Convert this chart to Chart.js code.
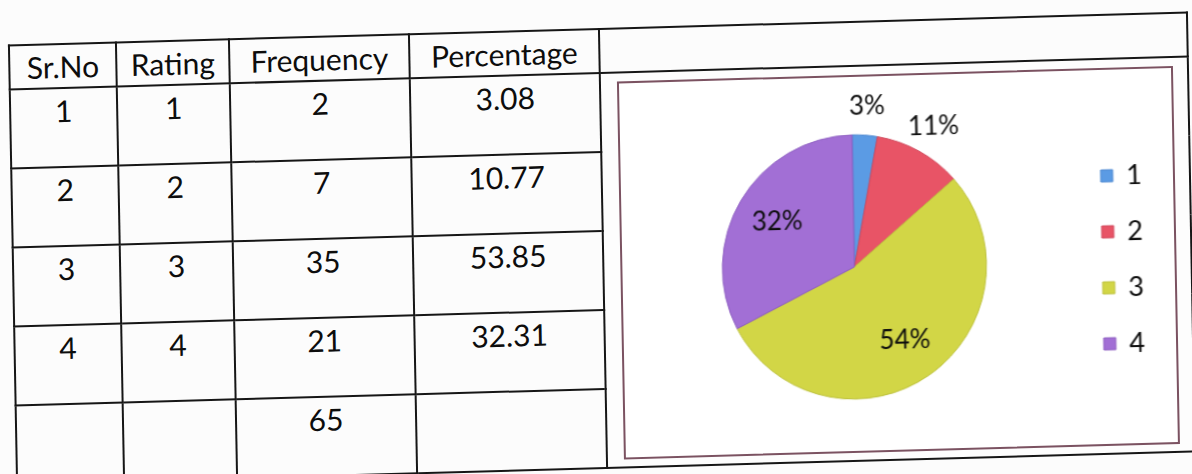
<!DOCTYPE html>
<html>
<head>
<meta charset="utf-8">
<script src="https://cdn.jsdelivr.net/npm/chart.js@4.4.1/dist/chart.umd.min.js"></script>
<style>
  html, body { margin: 0; padding: 0; background: #fcfcfc; }
  body { width: 1192px; height: 474px; overflow: hidden; position: relative; }
  #sheet {
    position: absolute; left: 12px; top: 28px; width: 1178px; height: 439px;
    transform-origin: center center;
    transform: matrix(1, -0.028, 0.0186, 1, 0, 0);
  }
  table {
    border-collapse: collapse; table-layout: fixed; width: 1178px;
    font-family: Lato, sans-serif; font-size: 30px; color: #0d0d0d;
  }
  th, td { border: 2px solid #161616; text-align: center; padding: 0; }
  th { font-weight: normal; height: 42px; vertical-align: middle; }
  td { height: 73px; vertical-align: top; padding-top: 4px; line-height: 34px; }
  td.chartCell { padding: 0; background: #fdfdfd; }
  .box {
    box-sizing: border-box; width: 556px; height: 378px; margin: 8px 0 0 16px;
    border: 2px solid #7b5261; background: #fff;
  }
  .box canvas { display: block; }
</style>
</head>
<body>
<div id="sheet">
  <table id="tbl">
    <colgroup>
      <col style="width:107px"><col style="width:113px"><col style="width:180px">
      <col style="width:190px"><col style="width:588px">
    </colgroup>
    <thead>
      <tr><th>Sr.No</th><th>Rating</th><th>Frequency</th><th>Percentage</th><th></th></tr>
    </thead>
    <tbody id="rows"></tbody>
  </table>
</div>

<script>
// table and pie values
var serials = [1, 2, 3, 4];
var ratings = ['1', '2', '3', '4'];
var frequencies = [2, 7, 35, 21];
var percentages = [3.08, 10.77, 53.85, 32.31];
var totalFrequency = 65;

var sliceColours = ['#5b9be4', '#e85466', '#d2d646', '#a26fd5'];
var sliceBorders = ['#4a86d0', '#d04458', '#bcc03a', '#8c5cc0'];

// build the rows, chart cell spans all body rows
var body = document.getElementById('rows');
for (var i = 0; i < serials.length; i++) {
    var tr = document.createElement('tr');
    tr.innerHTML = '<td>' + serials[i] + '</td><td>' + ratings[i] + '</td><td>' +
        frequencies[i] + '</td><td>' + percentages[i].toFixed(2) + '</td>';
    if (i === 0) {
        tr.innerHTML += '<td class="chartCell" rowspan="5"><div class="box">' +
            '<canvas id="ratingPie" width="552" height="374"></canvas></div></td>';
    }
    body.appendChild(tr);
}
var last = document.createElement('tr');
last.innerHTML = '<td></td><td></td><td>' + totalFrequency + '</td><td></td>';
body.appendChild(last);

// percent text on each slice: small slices outside, big ones inside
var sliceLabels = {
    id: 'sliceLabels',
    afterDatasetsDraw: function (chart) {
        var ctx = chart.ctx;
        var arcs = chart.getDatasetMeta(0).data;
        ctx.save();
        ctx.font = '26px Lato';
        ctx.fillStyle = '#0d0d0d';
        ctx.textAlign = 'center';
        ctx.textBaseline = 'middle';
        arcs.forEach(function (arc, i) {
            var p = arc.getProps(['x', 'y', 'startAngle', 'endAngle', 'outerRadius'], true);
            var mid = (p.startAngle + p.endAngle) / 2;
            var f = percentages[i] < 15 ? 1.22 : 0.68;
            ctx.fillText(Math.round(percentages[i]) + '%',
                p.x + Math.cos(mid) * p.outerRadius * f,
                p.y + Math.sin(mid) * p.outerRadius * f);
        });
        ctx.restore();
    }
};

var canvas = document.getElementById('ratingPie').getContext('2d');
var ratingChart = new Chart(canvas, {
    type: 'pie',
    data: {
        labels: ratings,
        datasets: [{
            data: percentages,
            backgroundColor: sliceColours,
            borderColor: sliceBorders,
            borderWidth: 1
        }]
    },
    options: {
        responsive: false,
        animation: false,
        devicePixelRatio: 1,
        radius: 132,
        layout: { padding: { left: 13, right: 21, top: 56, bottom: 50 } },
        plugins: {
            tooltip: { enabled: false },
            legend: {
                display: true,
                position: 'right',
                labels: {
                    boxWidth: 12,
                    boxHeight: 12,
                    padding: 29,
                    color: '#0d0d0d',
                    font: { family: 'Lato', size: 27 }
                }
            }
        }
    },
    plugins: [sliceLabels]
});
</script>
</body>
</html>
